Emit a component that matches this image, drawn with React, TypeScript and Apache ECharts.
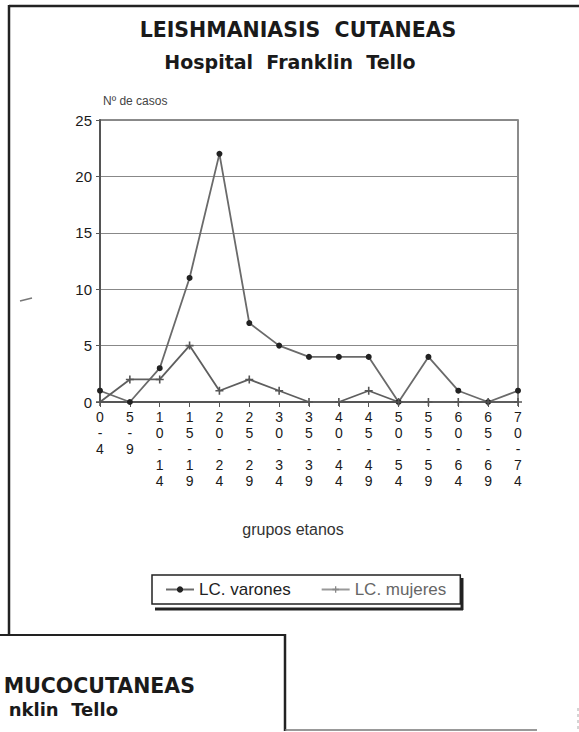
import React, { useEffect, useRef } from "react";
import * as echarts from "echarts";

const categories = ["0-4", "5-9", "10-14", "15-19", "20-24", "25-29", "30-34", "35-39", "40-44", "45-49", "50-54", "55-59", "60-64", "65-69", "70-74"];
const varones = [1, 0, 3, 11, 22, 7, 5, 4, 4, 4, 0, 4, 1, 0, 1];
const mujeres = [0, 2, 2, 5, 1, 2, 1, 0, 0, 1, 0, 0, 0, 0, 0];
const yTicks = { min: 0, max: 25, interval: 5 };

const FONT = "'Liberation Sans', Arial, sans-serif";
const TFONT = "'DejaVu Sans', sans-serif";

export default function App() {
  const ref = useRef<HTMLDivElement>(null);
  useEffect(() => {
    if (!ref.current) return;
    const chart = echarts.init(ref.current, undefined, { renderer: "svg" });
    chart.setOption({
      animation: false,
      backgroundColor: "#ffffff",
      textStyle: { fontFamily: FONT },
      grid: {
        left: 100,
        top: 120,
        width: 418,
        height: 282,
        show: true,
        borderColor: "#666",
        borderWidth: 1.5,
        backgroundColor: "transparent",
      },
      legend: {
        left: 152,
        top: 575,
        orient: "horizontal",
        padding: [6, 14, 6, 13],
        itemWidth: 28,
        itemHeight: 8,
        itemGap: 30,
        borderColor: "#222",
        borderWidth: 1.5,
        borderRadius: 0,
        backgroundColor: "#fff",
        textStyle: { fontSize: 17, color: "#222", fontFamily: FONT },
        data: [
          { name: "LC. varones" },
          {
            name: "LC. mujeres",
            textStyle: { color: "#666" },
            itemStyle: { color: "#888" },
            lineStyle: { color: "#999" },
          },
        ],
      },
      xAxis: {
        type: "category",
        data: categories,
        boundaryGap: false,
        axisLine: { show: true, lineStyle: { color: "#555", width: 2 } },
        axisTick: { show: true, length: 5, inside: false, lineStyle: { color: "#555" } },
        axisLabel: {
          interval: 0,
          margin: 7,
          fontSize: 14,
          lineHeight: 16,
          color: "#1a1a1a",
          fontFamily: FONT,
          formatter: (v: string) => v.split("").join("\n"),
        },
        splitLine: { show: false },
      },
      yAxis: {
        type: "value",
        min: yTicks.min,
        max: yTicks.max,
        interval: yTicks.interval,
        axisLine: { show: true, lineStyle: { color: "#555", width: 2 } },
        axisTick: { show: true, length: 4, lineStyle: { color: "#555" } },
        axisLabel: { margin: 8, fontSize: 15, color: "#1a1a1a", fontFamily: FONT },
        splitLine: { show: true, lineStyle: { color: "#888", width: 1.2 } },
      },
      series: [
        {
          name: "LC. varones",
          type: "line",
          data: varones,
          symbol: "circle",
          symbolSize: 6,
          lineStyle: { color: "#6a6a6a", width: 1.8 },
          itemStyle: { color: "#222" },
        },
        {
          name: "LC. mujeres",
          type: "line",
          data: mujeres,
          symbol: "path://M4,0H6V4H10V6H6V10H4V6H0V4H4Z",
          symbolSize: 8,
          lineStyle: { color: "#5e5e5e", width: 1.8 },
          itemStyle: { color: "#555" },
        },
      ],
      graphic: [
        { type: "line", shape: { x1: 9, y1: 6, x2: 579, y2: 6 }, style: { stroke: "#222", lineWidth: 2.5 } },
        { type: "line", shape: { x1: 9, y1: 5, x2: 9, y2: 635 }, style: { stroke: "#222", lineWidth: 2.5 } },
        { type: "line", shape: { x1: 0, y1: 635, x2: 285, y2: 635 }, style: { stroke: "#222", lineWidth: 2 } },
        { type: "line", shape: { x1: 285, y1: 634, x2: 285, y2: 731 }, style: { stroke: "#222", lineWidth: 2.5 } },
        { type: "line", shape: { x1: 285, y1: 730, x2: 537, y2: 730 }, style: { stroke: "#777", lineWidth: 1.5 } },
        { type: "line", shape: { x1: 578, y1: 708, x2: 578, y2: 730 }, style: { stroke: "#aaa", lineWidth: 1, lineDash: [3, 3] } },
        { type: "line", shape: { x1: 20, y1: 301, x2: 32, y2: 298 }, style: { stroke: "#777", lineWidth: 1.5 } },
        // legend drop shadow
        { type: "line", shape: { x1: 155, y1: 609, x2: 463, y2: 609 }, style: { stroke: "#222", lineWidth: 3 } },
        { type: "line", shape: { x1: 462, y1: 578, x2: 462, y2: 610 }, style: { stroke: "#222", lineWidth: 3 } },
        {
          type: "text", x: 298, y: 30,
          style: { text: "LEISHMANIASIS  CUTANEAS", fontFamily: TFONT, fontSize: 20.5, fontWeight: "bold", fill: "#1a1a1a", textAlign: "center", textVerticalAlign: "middle" },
        },
        {
          type: "text", x: 290, y: 62,
          style: { text: "Hospital  Franklin  Tello", fontFamily: TFONT, fontSize: 19, fontWeight: "bold", fill: "#1a1a1a", textAlign: "center", textVerticalAlign: "middle" },
        },
        {
          type: "text", x: 103, y: 101,
          style: { text: "Nº de casos", fontFamily: FONT, fontSize: 12, fill: "#444", textAlign: "left", textVerticalAlign: "middle" },
        },
        {
          type: "text", x: 293, y: 529,
          style: { text: "grupos etanos", fontFamily: FONT, fontSize: 16, fill: "#333", textAlign: "center", textVerticalAlign: "middle" },
        },
        {
          type: "text", x: 195, y: 686,
          style: { text: "MUCOCUTANEAS", fontFamily: TFONT, fontSize: 20.5, fontWeight: "bold", fill: "#1a1a1a", textAlign: "right", textVerticalAlign: "middle" },
        },
        {
          type: "text", x: 118, y: 709,
          style: { text: "nklin  Tello", fontFamily: TFONT, fontSize: 18, fontWeight: "bold", fill: "#1a1a1a", textAlign: "right", textVerticalAlign: "middle" },
        },
      ],
    });
    return () => chart.dispose();
  }, []);
  return (
    <div
      ref={ref}
      style={{ position: "fixed", left: 0, top: 0, width: 579, height: 732, background: "#fff" }}
    />
  );
}
